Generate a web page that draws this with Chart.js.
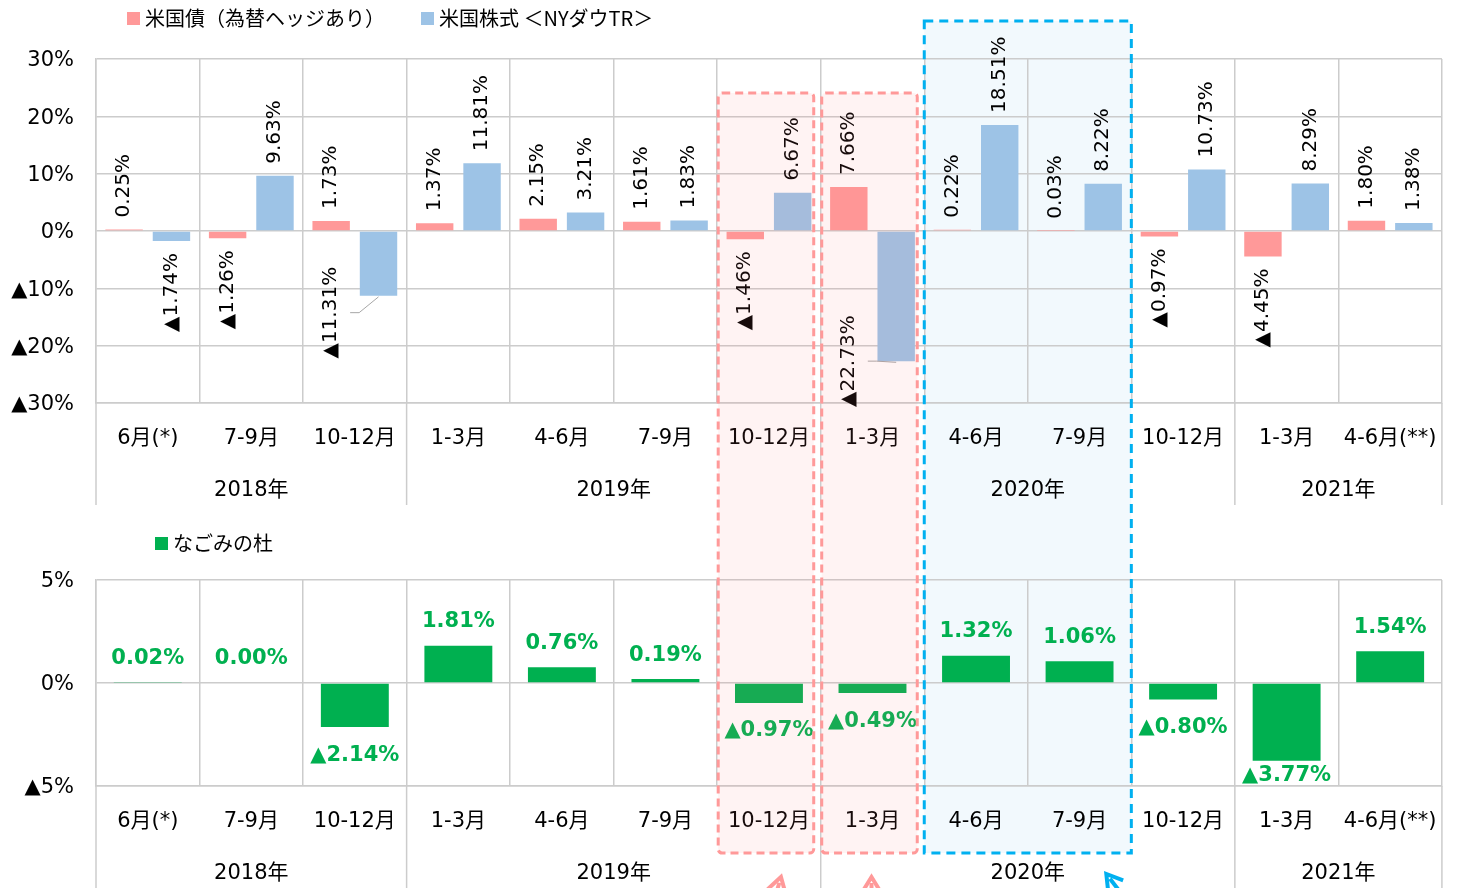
<!DOCTYPE html>
<html lang="ja">
<head>
<meta charset="UTF-8" />
<title>米国債・米国株式・なごみの杜 四半期リターン</title>
<script src="https://cdn.jsdelivr.net/npm/chart.js"></script>
<style>
  body { margin: 0; background: #fff; }
  #wrap { position: relative; width: 1460px; height: 888px; overflow: hidden; }
  canvas { position: absolute; left: 0; z-index: 1; }
  #topChart { top: 0; }
  #bottomChart { top: 510px; }
  svg { position: absolute; left: 0; top: 0; }
  #backLayer { z-index: 0; }
  #frontLayer { z-index: 2; }
  .legend {
    position: absolute; z-index: 3;
    font-family: 'Noto Sans CJK JP', sans-serif; font-size: 20px; color: #000;
    display: flex; align-items: center; line-height: 20px; white-space: nowrap;
  }
  .legend .box { width: 13px; height: 13px; display: inline-block; margin-right: 5px; }
</style>
</head>
<body>
<div id="wrap">
  <svg id="backLayer" width="1460" height="888"></svg>
  <canvas id="topChart" width="1460" height="510"></canvas>
  <canvas id="bottomChart" width="1460" height="378"></canvas>
  <svg id="frontLayer" width="1460" height="888"></svg>

  <div class="legend" style="left:127px; top:8px;"><span class="box" style="background:#FF9999"></span>米国債（為替ヘッジあり）</div>
  <div class="legend" style="left:421px; top:8px;"><span class="box" style="background:#9DC3E6"></span>米国株式 ＜NYダウTR＞</div>
  <div class="legend" style="left:155px; top:533px;"><span class="box" style="background:#00B050"></span>なごみの杜</div>
</div>

<script>
// quarterly returns (%)
const quarters = ['6月(*)', '7-9月', '10-12月', '1-3月', '4-6月', '7-9月', '10-12月', '1-3月', '4-6月', '7-9月', '10-12月', '1-3月', '4-6月(**)'];
const years = ['2018年', '2019年', '2020年', '2021年'];
const quartersPerYear = [3, 4, 4, 2];

const bondReturns  = [0.25, -1.26, 1.73, 1.37, 2.15, 1.61, -1.46, 7.66, 0.22, 0.03, -0.97, -4.45, 1.80];
const stockReturns = [-1.74, 9.63, -11.31, 11.81, 3.21, 1.83, 6.67, -22.73, 18.51, 8.22, 10.73, 8.29, 1.38];
const fundReturns  = [0.02, 0.00, -2.14, 1.81, 0.76, 0.19, -0.97, -0.49, 1.32, 1.06, -0.80, -3.77, 1.54];

const topTicks = [-30, -20, -10, 0, 10, 20, 30];
const bottomTicks = [-5, 0, 5];

const FONT = "'DejaVu Sans', 'Noto Sans CJK JP', sans-serif";
const GRID = '#CCCCCC';

function fmt(v) {
  return (v < 0 ? '▲' : '') + Math.abs(v).toFixed(2) + '%';
}
function tickText(v) {
  return (v < 0 ? '▲' + (-v) : v) + '%';
}

// stock labels that sit next to the bond bar, with a leader line
const movedLabels = [
  { dataset: 1, index: 2, dy: -29 },
  { dataset: 1, index: 7, dy: -46 }
];

// year groups under the quarter labels
const yearAxis = {
  id: 'yearAxis',
  afterDraw(chart) {
    const { ctx, chartArea, scales: { x } } = chart;
    ctx.save();
    ctx.strokeStyle = GRID;
    ctx.lineWidth = 1.5;
    ctx.fillStyle = '#000';
    ctx.font = '21px ' + FONT;
    ctx.textAlign = 'center';
    ctx.textBaseline = 'middle';
    let start = 0;
    const edges = [x.getPixelForValue(-0.5)];
    years.forEach((label, i) => {
      const end = start + quartersPerYear[i];
      const l = x.getPixelForValue(start - 0.5);
      const r = x.getPixelForValue(end - 0.5);
      ctx.fillText(label, (l + r) / 2, chartArea.bottom + 88);
      edges.push(r);
      start = end;
    });
    edges.forEach(px => {
      ctx.beginPath();
      ctx.moveTo(px, chartArea.bottom);
      ctx.lineTo(px, chartArea.bottom + 102);
      ctx.stroke();
    });
    ctx.restore();
  }
};

// rotated value labels for the bond / stock bars
const rotatedLabels = {
  id: 'rotatedLabels',
  afterDatasetsDraw(chart) {
    const { ctx } = chart;
    ctx.save();
    ctx.font = '20px ' + FONT;
    ctx.fillStyle = '#000';
    ctx.textBaseline = 'middle';
    chart.data.datasets.forEach((ds, di) => {
      chart.getDatasetMeta(di).data.forEach((bar, i) => {
        const v = ds.data[i];
        const text = fmt(v);
        const moved = movedLabels.find(m => m.dataset === di && m.index === i);
        let x = bar.x;
        let y = v >= 0 ? bar.y - 12 : bar.y + 12;
        if (moved) {
          x = chart.getDatasetMeta(1 - di).data[i].x;
          y = bar.y + moved.dy;
          const mid = y + ctx.measureText(text).width / 2;
          ctx.save();
          ctx.strokeStyle = '#A6A6A6';
          ctx.lineWidth = 1;
          ctx.beginPath();
          ctx.moveTo(bar.x, bar.y + 1);
          ctx.lineTo(x + 28, mid);
          ctx.lineTo(x + 19, mid);
          ctx.stroke();
          ctx.restore();
        }
        ctx.save();
        ctx.translate(x, y);
        ctx.rotate(-Math.PI / 2);
        ctx.textAlign = v >= 0 ? 'left' : 'right';
        ctx.fillText(text, 0, 0);
        ctx.restore();
      });
    });
    ctx.restore();
  }
};

// bold green value labels for the fund bars
const fundLabels = {
  id: 'fundLabels',
  afterDatasetsDraw(chart) {
    const { ctx, chartArea } = chart;
    ctx.save();
    ctx.font = 'bold 21px ' + FONT;
    ctx.fillStyle = '#00B050';
    ctx.textAlign = 'center';
    ctx.textBaseline = 'middle';
    chart.getDatasetMeta(0).data.forEach((bar, i) => {
      const v = fundReturns[i];
      let y = v >= 0 ? bar.y - 24 : bar.y + 28;
      if (y + 10 > chartArea.bottom) y = chartArea.bottom - 10;
      ctx.fillText(fmt(v), bar.x, y);
    });
    ctx.restore();
  }
};

function axes(min, max, ticks, xHeight) {
  return {
    x: {
      grid: { color: GRID, lineWidth: 1.5, drawTicks: false, offset: true },
      border: { color: GRID, width: 1.5 },
      ticks: { color: '#000', font: { family: FONT, size: 21 }, padding: 23, autoSkip: false, maxRotation: 0 },
      afterFit: s => { s.height = xHeight; }
    },
    y: {
      min: min, max: max,
      afterBuildTicks: s => { s.ticks = ticks.map(v => ({ value: v })); },
      grid: { color: GRID, lineWidth: 1.5, drawTicks: false },
      border: { color: GRID, width: 1.5 },
      ticks: { color: '#000', font: { family: FONT, size: 21 }, padding: 22, labelOffset: 2, callback: tickText },
      afterFit: s => { s.width = 96; }
    }
  };
}

const topChart = new Chart(document.getElementById('topChart'), {
  type: 'bar',
  data: {
    labels: quarters,
    datasets: [
      { label: '米国債（為替ヘッジあり）', data: bondReturns, backgroundColor: '#FF9999', categoryPercentage: 0.915, barPercentage: 0.79 },
      { label: '米国株式＜NYダウTR＞', data: stockReturns, backgroundColor: '#9DC3E6', categoryPercentage: 0.915, barPercentage: 0.79 }
    ]
  },
  options: {
    responsive: false,
    animation: false,
    layout: { padding: { left: 0, top: 59, right: 13, bottom: 0 } },
    plugins: { legend: { display: false }, tooltip: { enabled: false } },
    scales: axes(-30, 30, topTicks, 107)
  },
  plugins: [yearAxis, rotatedLabels]
});

const bottomChart = new Chart(document.getElementById('bottomChart'), {
  type: 'bar',
  data: {
    labels: quarters,
    datasets: [
      { label: 'なごみの杜', data: fundReturns, backgroundColor: '#00B050', categoryPercentage: 0.8, barPercentage: 0.82 }
    ]
  },
  options: {
    responsive: false,
    animation: false,
    layout: { padding: { left: 0, top: 70, right: 13, bottom: 0 } },
    plugins: { legend: { display: false }, tooltip: { enabled: false } },
    scales: axes(-5, 5, bottomTicks, 102)
  },
  plugins: [yearAxis, fundLabels]
});

// dashed highlight frames around 2019 10-12月, 2020 1-3月 and 2020 4-9月
const pinkFrames = [6, 7];
const blueFrame = [8, 9];

function drawFrames() {
  const x = topChart.scales.x;
  const edge = i => x.getPixelForValue(i - 0.5);
  const NS = 'http://www.w3.org/2000/svg';
  const back = document.getElementById('backLayer');
  const front = document.getElementById('frontLayer');
  const el = (parent, tag, attrs) => {
    const r = document.createElementNS(NS, tag);
    Object.entries(attrs).forEach(([k, v]) => r.setAttribute(k, v));
    parent.appendChild(r);
  };

  const bl = edge(blueFrame[0]);
  const br = edge(blueFrame[1] + 1);
  el(back, 'rect', { x: bl, y: 21, width: br - bl, height: 832, fill: '#F2F9FD' });
  el(front, 'rect', { x: bl, y: 21, width: br - bl, height: 832, fill: 'none', stroke: '#00B0F0', 'stroke-width': 3, 'stroke-dasharray': '9 6' });

  pinkFrames.forEach(i => {
    const l = edge(i) + 1;
    const r = edge(i + 1) - 7;
    el(front, 'rect', { x: l, y: 93, width: r - l, height: 760, rx: 4, fill: 'rgba(255,120,120,0.09)', stroke: '#FF9999', 'stroke-width': 3, 'stroke-dasharray': '8 5' });
  });

  // arrows pointing up at the frames (only their heads show above the page edge)
  const arrow = (tx, ty, fx, fy, color) => {
    const a = Math.atan2(ty - fy, tx - fx);
    const h = 18;
    const back1 = [tx - h * Math.cos(a - 0.55), ty - h * Math.sin(a - 0.55)];
    const back2 = [tx - h * Math.cos(a + 0.55), ty - h * Math.sin(a + 0.55)];
    el(front, 'line', { x1: fx, y1: fy, x2: tx - 6 * Math.cos(a), y2: ty - 6 * Math.sin(a), stroke: color, 'stroke-width': 4 });
    el(front, 'polyline', { points: `${back1[0]},${back1[1]} ${tx},${ty} ${back2[0]},${back2[1]}`, fill: 'none', stroke: color, 'stroke-width': 4, 'stroke-linejoin': 'miter' });
  };
  const c6 = x.getPixelForValue(6);
  const c7 = x.getPixelForValue(7);
  arrow(c6 + 12, 877, c6 + 4, 905, '#FF9999');
  arrow(c7 - 1, 877, c7 - 1, 905, '#FF9999');
  arrow(br - 25, 874, br - 5, 900, '#00B0F0');
}
drawFrames();
</script>
</body>
</html>
